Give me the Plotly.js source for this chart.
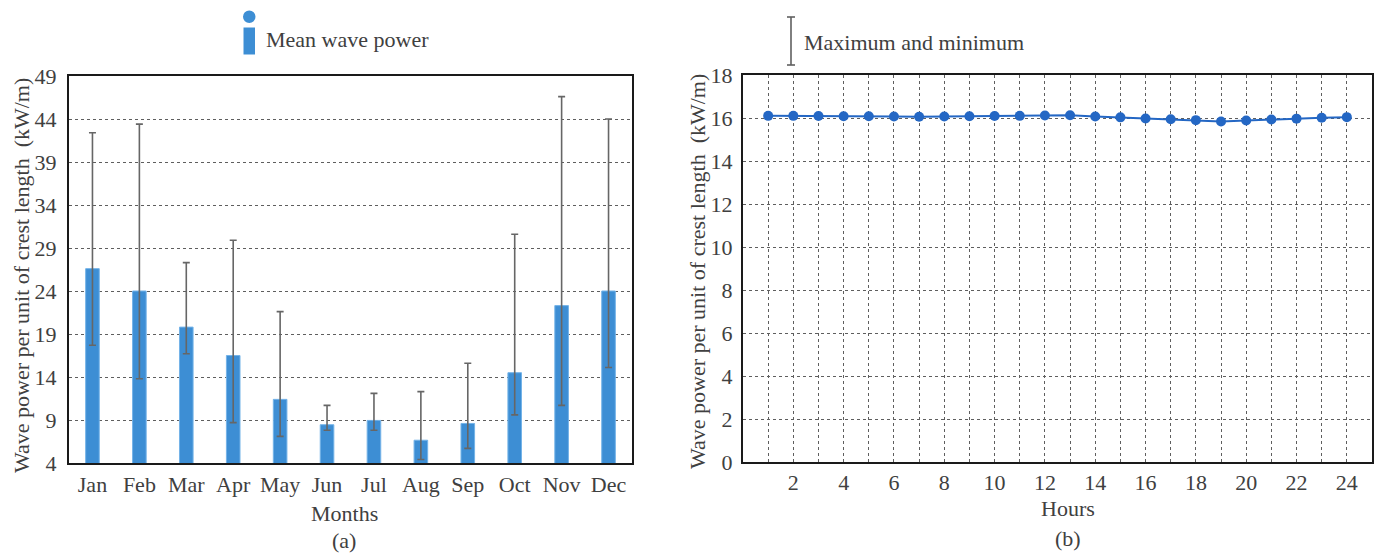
<!DOCTYPE html>
<html>
<head>
<meta charset="utf-8">
<script src="https://cdn.plot.ly/plotly-3.0.1.min.js"></script>
<style>
  html, body { margin: 0; padding: 0; background: #fff; }
  #chart { width: 1380px; height: 554px; }
</style>
</head>
<body>
<div id="chart"></div>
<script>
// (a) Monthly mean wave power with maximum / minimum range
const months = ['Jan', 'Feb', 'Mar', 'Apr', 'May', 'Jun', 'Jul', 'Aug', 'Sep', 'Oct', 'Nov', 'Dec'];
const meanPower = [26.6, 24.0, 19.8, 16.5, 11.4, 8.45, 8.95, 6.65, 8.6, 14.5, 22.3, 24.0];
const maxPower  = [42.4, 43.4, 27.3, 29.9, 21.6, 10.7, 12.1, 12.3, 15.6, 30.6, 46.6, 44.0];
const minPower  = [17.7, 13.8, 16.7, 8.7, 7.1, 7.8, 7.8, 4.4, 5.7, 9.6, 10.7, 15.1];

// (b) Hourly mean wave power
const hours = [1, 2, 3, 4, 5, 6, 7, 8, 9, 10, 11, 12, 13, 14, 15, 16, 17, 18, 19, 20, 21, 22, 23, 24];
const hourlyPower = [16.10, 16.10, 16.09, 16.08, 16.08, 16.07, 16.06, 16.07, 16.08, 16.09, 16.10, 16.12,
                     16.13, 16.07, 16.03, 15.98, 15.94, 15.90, 15.84, 15.88, 15.93, 15.97, 16.01, 16.04];

const monthTicks = [4, 9, 14, 19, 24, 29, 34, 39, 44, 49];
const hourTickText = hours.map(h => (h % 2 === 0 ? String(h) : ''));

const W = 1380, H = 554;
const px = x => x / W;
const py = y => 1 - y / H;

const FONT = 'Liberation Serif, Times New Roman, serif';
const TXT = '#404040';
const BLUE = '#3d8ed4';
const LINE_BLUE = '#2467c4';
const GRID = '#5e5e5e';

const errPlus = maxPower.map((v, i) => +(v - meanPower[i]).toFixed(3));
const errMinus = minPower.map((v, i) => +(meanPower[i] - v).toFixed(3));

const traces = [
  {
    type: 'bar',
    x: months,
    y: meanPower,
    xaxis: 'x', yaxis: 'y',
    width: 0.29,
    marker: { color: BLUE, line: { color: '#74b3e8', width: 1 } },
    error_y: {
      type: 'data', symmetric: false,
      array: errPlus, arrayminus: errMinus,
      color: '#666666', thickness: 1.6, width: 3.5
    },
    showlegend: false,
    hoverinfo: 'x+y'
  },
  {
    type: 'scatter',
    mode: 'lines+markers',
    x: hours,
    y: hourlyPower,
    xaxis: 'x2', yaxis: 'y2',
    line: { color: LINE_BLUE, width: 2 },
    marker: { color: LINE_BLUE, size: 10 },
    showlegend: false
  }
];

const axisCommon = {
  showline: true, mirror: true, linecolor: '#1a1a1a', linewidth: 2,
  ticks: '', zeroline: false, fixedrange: true,
  tickfont: { family: FONT, size: 22, color: TXT }
};

const layout = {
  width: W, height: H,
  margin: { l: 0, r: 0, t: 0, b: 0 },
  paper_bgcolor: '#ffffff', plot_bgcolor: '#ffffff',
  font: { family: FONT, color: TXT, size: 22 },
  xaxis: Object.assign({}, axisCommon, {
    domain: [px(69), px(632)],
    anchor: 'y',
    type: 'category',
    range: [-0.5, 11.5],
    showgrid: false,
    ticklabelstandoff: 1
  }),
  yaxis: Object.assign({}, axisCommon, {
    domain: [py(463), py(76)],
    anchor: 'x',
    range: [4, 49],
    tickvals: monthTicks,
    showgrid: true, gridcolor: GRID, gridwidth: 1, griddash: 'dot',
    ticklabelstandoff: 6
  }),
  xaxis2: Object.assign({}, axisCommon, {
    domain: [px(743), px(1372)],
    anchor: 'y2',
    range: [0, 25],
    tickvals: hours,
    ticktext: hourTickText,
    showgrid: true, gridcolor: GRID, gridwidth: 1, griddash: 'dot',
    ticklabelstandoff: 0
  }),
  yaxis2: Object.assign({}, axisCommon, {
    domain: [py(462), py(75)],
    anchor: 'x2',
    range: [0, 18],
    dtick: 2,
    showgrid: true, gridcolor: GRID, gridwidth: 1, griddash: 'dot',
    ticklabelstandoff: 4
  }),
  shapes: [
    // legend key for (a): dot above a bar
    { type: 'circle', xref: 'paper', yref: 'paper',
      x0: px(243), x1: px(255.5), y0: py(23), y1: py(10.5),
      fillcolor: BLUE, line: { width: 0 } },
    { type: 'rect', xref: 'paper', yref: 'paper',
      x0: px(243.5), x1: px(255), y0: py(54.5), y1: py(27.5),
      fillcolor: BLUE, line: { width: 0 } },
    // legend key for (b): range whisker
    { type: 'line', xref: 'paper', yref: 'paper',
      x0: px(791), x1: px(791), y0: py(17), y1: py(65),
      line: { color: '#606060', width: 1.6 } },
    { type: 'line', xref: 'paper', yref: 'paper',
      x0: px(787), x1: px(795), y0: py(17), y1: py(17),
      line: { color: '#606060', width: 1.6 } },
    { type: 'line', xref: 'paper', yref: 'paper',
      x0: px(787), x1: px(795), y0: py(65), y1: py(65),
      line: { color: '#606060', width: 1.6 } }
  ],
  annotations: [
    { text: 'Mean wave power', xref: 'paper', yref: 'paper',
      x: px(264), y: py(39), xanchor: 'left', yanchor: 'middle', showarrow: false,
      font: { family: FONT, size: 22, color: TXT } },
    { text: 'Maximum and minimum', xref: 'paper', yref: 'paper',
      x: px(802), y: py(43), xanchor: 'left', yanchor: 'middle', showarrow: false,
      font: { family: FONT, size: 22, color: TXT } },
    { text: 'Wave power per unit of crest length  (kW/m)', xref: 'paper', yref: 'paper',
      x: px(21), y: py(276), xanchor: 'center', yanchor: 'middle', textangle: -90, showarrow: false,
      font: { family: FONT, size: 22, color: TXT } },
    { text: 'Wave power per unit of crest length  (kW/m)', xref: 'paper', yref: 'paper',
      x: px(697), y: py(272), xanchor: 'center', yanchor: 'middle', textangle: -90, showarrow: false,
      font: { family: FONT, size: 22, color: TXT } },
    { text: 'Months', xref: 'paper', yref: 'paper',
      x: px(344), y: py(513), xanchor: 'center', yanchor: 'middle', showarrow: false,
      font: { family: FONT, size: 22, color: TXT } },
    { text: '(a)', xref: 'paper', yref: 'paper',
      x: px(344), y: py(540), xanchor: 'center', yanchor: 'middle', showarrow: false,
      font: { family: FONT, size: 22, color: TXT } },
    { text: 'Hours', xref: 'paper', yref: 'paper',
      x: px(1068), y: py(508), xanchor: 'center', yanchor: 'middle', showarrow: false,
      font: { family: FONT, size: 22, color: TXT } },
    { text: '(b)', xref: 'paper', yref: 'paper',
      x: px(1068), y: py(538), xanchor: 'center', yanchor: 'middle', showarrow: false,
      font: { family: FONT, size: 22, color: TXT } }
  ]
};

Plotly.newPlot('chart', traces, layout, { displayModeBar: false, staticPlot: true });
</script>
</body>
</html>
